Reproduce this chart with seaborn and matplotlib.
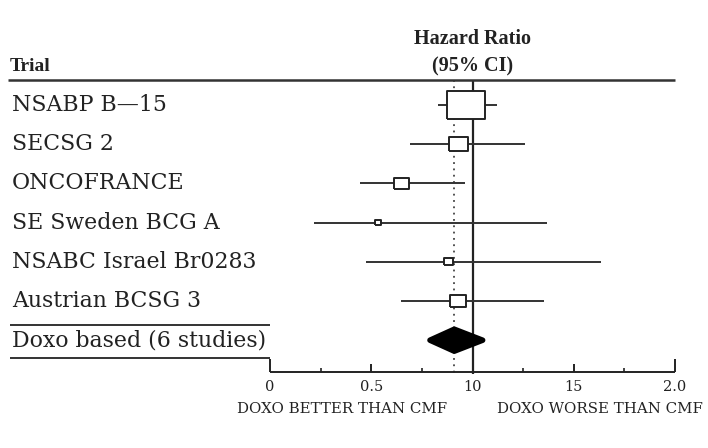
import numpy as np
import pandas as pd
import matplotlib
matplotlib.use("Agg")
import matplotlib.pyplot as plt
import seaborn as sns

# trial data
trials = ['NSABP B\u201415', 'SECSG 2', 'ONCOFRANCE', 'SE Sweden BCG A',
          'NSABC Israel Br0283', 'Austrian BCSG 3']
hr = [0.97, 0.93, 0.65, 0.535, 0.88, 0.93]
ci_low = [0.83, 0.69, 0.445, 0.215, 0.475, 0.645]
ci_high = [1.12, 1.26, 0.965, 1.37, 1.635, 1.355]
weight = [60.0, 15.0, 9.3, 1.4, 3.6, 10.8]

pooled_label = 'Doxo based (6 studies)'
pooled_hr = 0.91
pooled_low = 0.79
pooled_high = 1.05

tick_vals = [0, 0.5, 1.0, 1.5, 2.0]
tick_text = ['0', '0.5', '10', '15', '2.0']
minor_vals = [0.25, 0.75, 1.25, 1.75]

df = pd.DataFrame({'trial': trials, 'hr': hr, 'lo': ci_low, 'hi': ci_high,
                   'w': weight, 'row': np.arange(len(trials))})

sns.set_style('white')
fig = plt.figure(figsize=(7.08, 4.48), dpi=100)
ax = fig.add_axes([0, 0, 1, 1])
ax.set_xlim(-270 / 202.5, 438 / 202.5)
ax.set_ylim((448 - 105) / 39.2, -105 / 39.2)
ax.axis('off')

serif = 'DejaVu Serif'
head = 'Liberation Serif'
ink = '#222222'

# confidence intervals
ax.hlines(df['row'], df['lo'], df['hi'], color='#333333', lw=1.4, zorder=2)

# reference lines
pooled_row = len(trials)
ax.vlines(1.0, -0.64, 6.85, color=ink, lw=1.6, zorder=1)
ax.vlines(pooled_hr, -0.64, 6.85, color='#444444', lw=1.3,
          linestyles=(0, (1, 2.5)), zorder=1)

# boxes sized by weight
rect = [(-1.35, -1), (1.35, -1), (1.35, 1), (-1.35, 1), (-1.35, -1)]
sns.scatterplot(data=df, x='hr', y='row', size='w', sizes=(0, 750),
                size_norm=(0, 60), marker=rect, facecolor='white',
                edgecolor=ink, linewidth=1.4, legend=False, ax=ax,
                zorder=3)

# pooled diamond
dh = 0.28
ax.fill([pooled_low, pooled_hr, pooled_high, pooled_hr],
        [pooled_row, pooled_row - dh, pooled_row, pooled_row + dh],
        color='black', zorder=3, joinstyle='round', lw=4, ec='black')

# header
ax.hlines(-0.64, -1.295, 2.0, color='#333333', lw=1.8)
ax.text(-1.285, -0.86, 'Trial', fontsize=14, fontweight='bold',
        family=head, ha='left', va='baseline', color=ink)
ax.text(1.0, -1.55, 'Hazard Ratio', fontsize=14.5, fontweight='bold',
        family=head, ha='center', va='baseline', color=ink)
ax.text(1.0, -0.86, '(95% CI)', fontsize=14.5, fontweight='bold',
        family=head, ha='center', va='baseline', color=ink)

# trial labels
for r, name in zip(df['row'], df['trial']):
    ax.text(-1.275, r, name, fontsize=15.8, family=serif, ha='left',
            va='center', color=ink)
ax.text(-1.275, pooled_row, pooled_label, fontsize=15.8, family=serif,
        ha='left', va='center', color=ink)
ax.hlines([pooled_row - 0.4, pooled_row + 0.46], -1.283, 0.0,
          color='#333333', lw=1.4)

# x axis
axis_row = (372 - 105) / 39.2
ax.hlines(axis_row, 0, 2.0, color=ink, lw=1.4)
for v in tick_vals:
    h = 0.32 if v in (0, 2.0) else 0.2
    ax.vlines(v, axis_row - h, axis_row, color=ink, lw=1.4)
for v in minor_vals:
    ax.vlines(v, axis_row - 0.1, axis_row, color=ink, lw=1.2)
for v, t in zip(tick_vals, tick_text):
    ax.text(v, axis_row + 0.38, t, fontsize=10.5, family=serif,
            ha='center', va='center', color=ink)
ax.text(0.356, axis_row + 0.95, 'DOXO BETTER THAN CMF', fontsize=10.8,
        family=serif, ha='center', va='center', color=ink)
ax.text(1.63, axis_row + 0.95, 'DOXO WORSE THAN CMF', fontsize=10.8,
        family=serif, ha='center', va='center', color=ink)

fig.savefig('out.png', dpi=100)
